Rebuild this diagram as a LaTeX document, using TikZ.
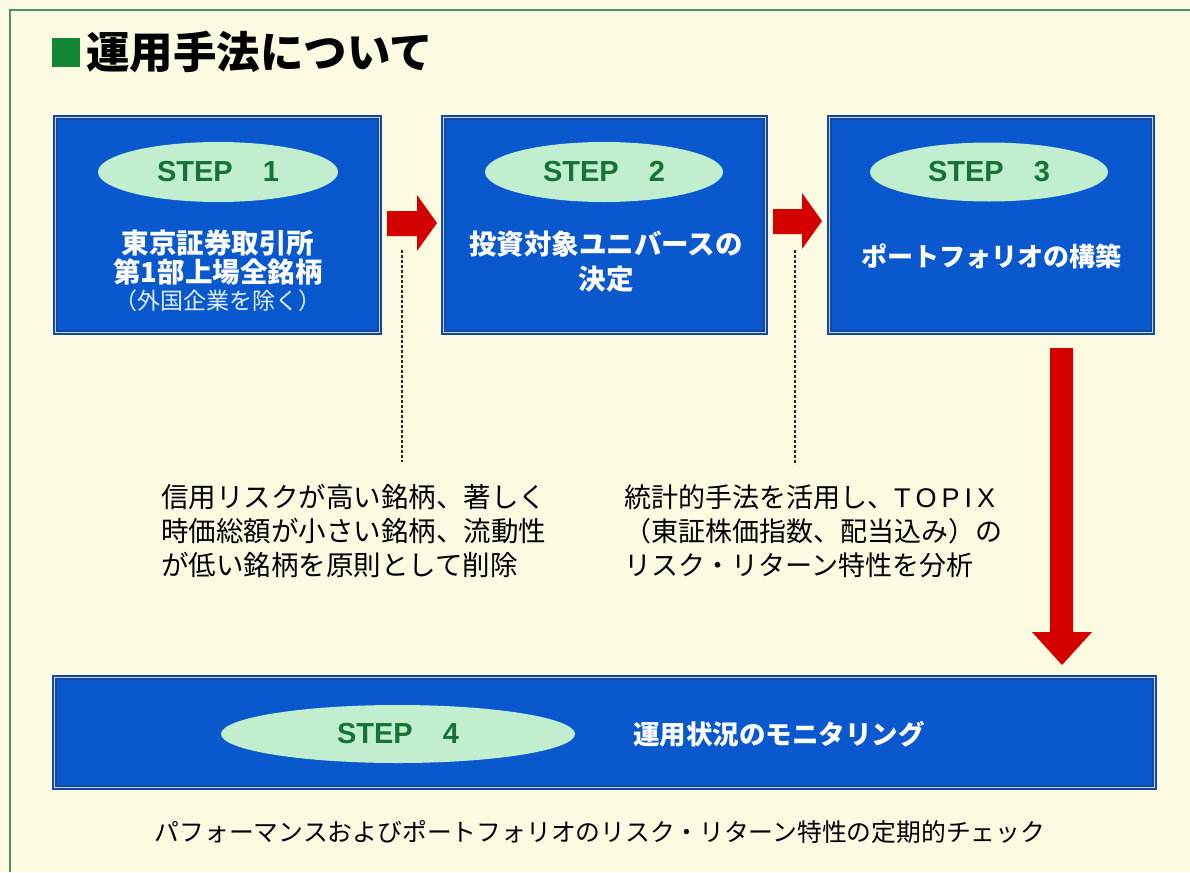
\documentclass[tikz,border=0pt]{standalone}
\usepackage{fontspec}
\setmainfont{Liberation Sans}
\newfontfamily\jp{Noto Sans CJK JP}
\usetikzlibrary{shapes.geometric}
\definecolor{bg}{RGB}{253,250,226}
\definecolor{framegreen}{RGB}{70,150,100}
\definecolor{sqgreen}{RGB}{20,135,55}
\definecolor{boxblue}{RGB}{10,88,205}
\definecolor{boxdark}{RGB}{25,70,160}
\definecolor{boxlight}{RGB}{175,222,245}
\definecolor{ellfill}{RGB}{192,238,207}
\definecolor{steptext}{RGB}{20,115,55}
\definecolor{arrowred}{RGB}{212,0,0}
\definecolor{subwhite}{RGB}{225,238,255}
\tikzset{
  stepbox/.style={rectangle, fill=boxblue, draw=boxdark, double=boxlight,
    double distance=1.8pt, line width=1.6pt, inner sep=0pt},
  steplabel/.style={ellipse, fill=ellfill, inner sep=0pt,
    font=\fontsize{29}{32}\selectfont\bfseries, text=steptext},
  boxtext/.style={text=white, align=center, inner sep=0pt,
    font=\jp\bfseries\fontsize{27}{34}\selectfont},
  note/.style={text=black, align=left, inner sep=0pt, anchor=west,
    font=\jp\fontsize{27.5}{34}\selectfont},
  redarrow/.style={fill=arrowred, draw=none},
  dotline/.style={draw=black!85, line width=1.5pt, dash pattern=on 3pt off 2pt}
}
\begin{document}
\begin{tikzpicture}[x=1pt,y=-1pt]
\useasboundingbox (0,0) rectangle (1190,872);
\fill[bg] (0,0) rectangle (1190,872);
\draw[framegreen, line width=2pt] (10,872) -- (10,10) -- (1190,10);

% title
\node[fill=sqgreen, minimum width=28pt, minimum height=29pt, inner sep=0pt] (sq) at (66,53) {};
\node[anchor=west, inner sep=0pt, font=\jp\bfseries\fontsize{43.5}{46}\selectfont] (title) at (86,52) {運用手法について};

% boxes
\node[stepbox, minimum width=324pt, minimum height=215pt] (b1) at (217.5,225) {};
\node[stepbox, minimum width=322pt, minimum height=215pt] (b2) at (604.5,225) {};
\node[stepbox, minimum width=323pt, minimum height=215pt] (b3) at (991,225) {};
\node[stepbox, minimum width=1100pt, minimum height=110pt] (b4) at (604.5,732.5) {};

% step labels
\node[steplabel, minimum width=240pt, minimum height=60pt] (s1) at (218,172) {STEP\hspace{30pt}1};
\node[steplabel, minimum width=238pt, minimum height=60pt] (s2) at (604,172) {STEP\hspace{30pt}2};
\node[steplabel, minimum width=238pt, minimum height=59pt] (s3) at (989,172) {STEP\hspace{30pt}3};
\node[steplabel, minimum width=354pt, minimum height=58pt] (s4) at (398,734) {STEP\hspace{30pt}4};

% box texts
\node[boxtext, font=\jp\bfseries\fontsize{27.5}{29}\selectfont] (t1) at (218,258) {東京証券取引所\\第1部上場全銘柄};
\node[text=subwhite, inner sep=0pt, font=\jp\fontsize{23}{26}\selectfont] (t1b) at (218,301) {（外国企業を除く）};
\node[boxtext, font=\jp\bfseries\fontsize{27.5}{35}\selectfont] (t2) at (606,262) {投資対象ユニバースの\\決定};
\node[boxtext, font=\jp\bfseries\fontsize{26}{30}\selectfont] (t3) at (991,256) {ポートフォリオの構築};
\node[boxtext, anchor=west, font=\jp\bfseries\fontsize{26.5}{30}\selectfont] (t4) at (633,734) {運用状況のモニタリング};

% red arrows
\fill[redarrow] (387,211) -- (417,211) -- (417,195) -- (437,223) -- (417,251) -- (417,236) -- (387,236) -- cycle;
\fill[redarrow] (773,209) -- (802,209) -- (802,193) -- (822,221) -- (802,249) -- (802,234) -- (773,234) -- cycle;
\fill[redarrow] (1050,348) -- (1073,348) -- (1073,632) -- (1092,632) -- (1062,665) -- (1032,632) -- (1050,632) -- cycle;

% dotted leaders
\coordinate (d1a) at (402,250);
\coordinate (d1b) at (402,462);
\coordinate (d2a) at (795,250);
\coordinate (d2b) at (795,465);
\draw[dotline] (d1a) -- (d1b);
\draw[dotline] (d2a) -- (d2b);

% notes
\node[note] (n1) at (161,531) {信用リスクが高い銘柄、著しく\\時価総額が小さい銘柄、流動性\\が低い銘柄を原則として削除};
\node[note, font=\jp\fontsize{27}{34}\selectfont] (n2) at (624,531) {統計的手法を活用し、{\fontspec{Liberation Sans}T\hspace{5pt}O\hspace{5pt}P\hspace{5pt}I\hspace{5pt}X}\\（東証株価指数、配当込み）の\\リスク・リターン特性を分析};

\node[inner sep=0pt, font=\jp\fontsize{24.8}{28}\selectfont] (n3) at (600,832) {パフォーマンスおよびポートフォリオのリスク・リターン特性の定期的チェック};
\end{tikzpicture}
\end{document}
